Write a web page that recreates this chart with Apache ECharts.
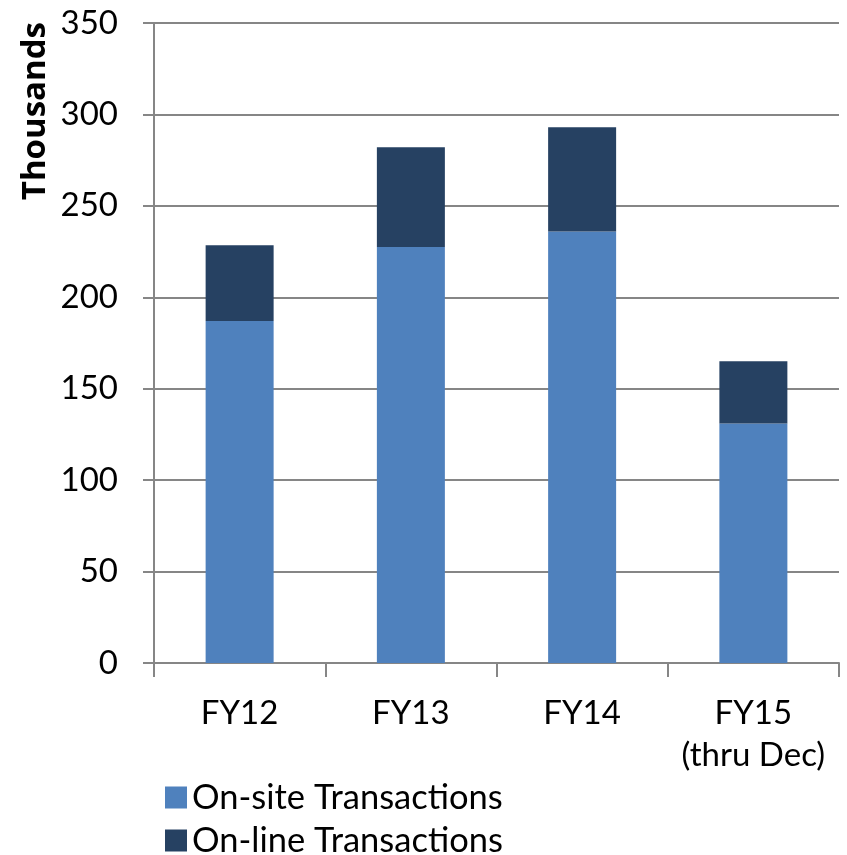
<!DOCTYPE html>
<html>
<head>
<meta charset="utf-8">
<script src="https://cdn.jsdelivr.net/npm/echarts@6/dist/echarts.min.js"></script>
<style>
  html, body { margin: 0; padding: 0; background: #fff; }
  #main { width: 847px; height: 855px; }
</style>
</head>
<body>
<div id="main"></div>
<script>
// values (thousands)
let categories = ['FY12', 'FY13', 'FY14', 'FY15\n(thru Dec)'];
let onsiteValues = [187, 227.5, 236, 131];
let onlineValues = [41.5, 54.5, 57, 34];
let yTicks = [0, 50, 100, 150, 200, 250, 300, 350];
let seriesNames = ['On-site Transactions', 'On-line Transactions'];

let fontName = 'Lato, "Open Sans", sans-serif';
let gridColor = '#868686';

var myChart = echarts.init(document.getElementById('main'));

// one legend per row, stacked like the original
function legendRow(name, top) {
    return {
        orient: 'vertical',
        left: 160,
        top: top,
        itemWidth: 22,
        itemHeight: 22,
        itemGap: 0,
        icon: 'rect',
        textStyle: { fontSize: 34.5, color: '#000', fontFamily: fontName },
        data: [name]
    };
}

var option = {
    animation: false,
    textStyle: { fontFamily: fontName },
    grid: {
        left: 154,
        right: 8,
        top: 23,
        bottom: 192,
        containLabel: false
    },
    legend: [
        legendRow(seriesNames[0], 775),
        legendRow(seriesNames[1], 818)
    ],
    graphic: [
        {
            type: 'text',
            left: 19,
            top: 22,
            rotation: Math.PI / 2,
            style: {
                text: 'Thousands',
                font: 'bold 33px "Open Sans", sans-serif',
                fill: '#000'
            }
        }
    ],
    xAxis: {
        type: 'category',
        data: categories,
        axisLine: { lineStyle: { color: gridColor, width: 2 } },
        axisTick: { show: true, length: 14, lineStyle: { color: gridColor, width: 2 } },
        axisLabel: {
            color: '#000',
            fontSize: 33,
            lineHeight: 42,
            margin: 29,
            interval: 0,
            fontFamily: fontName
        }
    },
    yAxis: {
        type: 'value',
        min: yTicks[0],
        max: yTicks[yTicks.length - 1],
        interval: 50,
        axisLine: { show: true, lineStyle: { color: gridColor, width: 2 } },
        axisTick: { show: true, length: 11, lineStyle: { color: gridColor, width: 2 } },
        axisLabel: {
            color: '#000',
            fontSize: 33,
            margin: 36,
            fontFamily: fontName
        },
        splitLine: { show: true, lineStyle: { color: gridColor, width: 2 } }
    },
    series: [
        {
            name: seriesNames[0],
            type: 'bar',
            stack: 'total',
            barWidth: 68,
            itemStyle: { color: '#4F81BD' },
            data: onsiteValues
        },
        {
            name: seriesNames[1],
            type: 'bar',
            stack: 'total',
            barWidth: 68,
            itemStyle: { color: '#264162' },
            data: onlineValues
        }
    ]
};

myChart.setOption(option);
</script>
</body>
</html>
